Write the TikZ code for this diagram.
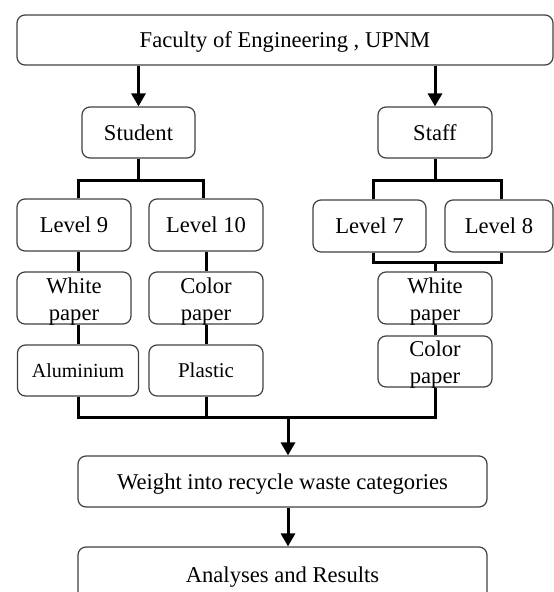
\documentclass[tikz,border=0pt]{standalone}
\usepackage{fontspec}
\setmainfont{Liberation Serif}
\usetikzlibrary{arrows.meta,calc}
\begin{document}
\begin{tikzpicture}[x=1pt,y=-1pt,
  box/.style={draw=black!75, line width=1.2pt, rounded corners=8pt, inner sep=0pt,
    font=\fontsize{22.6}{27}\selectfont, text height=15.4pt, text depth=0pt},
  twol/.style={align=center, inner sep=0pt, font=\fontsize{22.6}{27}\selectfont},
  conn/.style={line width=3pt},
  arr/.style={line width=3pt, -{Triangle[length=13pt,width=14pt]}}]
\useasboundingbox (0,0) rectangle (554,592);
\node[box, minimum width=536pt, minimum height=50pt] (top) at (285,40) {Faculty of Engineering , UPNM};
\node[box, minimum width=113pt, minimum height=51pt] (student) at (138.5,132.5) {Student};
\node[box, minimum width=114pt, minimum height=51pt] (staff) at (435,132.5) {Staff};
\node[box, minimum width=114pt, minimum height=52pt] (lv9) at (74,225) {Level 9};
\node[box, minimum width=114pt, minimum height=52pt] (lv10) at (206,225) {Level 10};
\node[box, minimum width=113pt, minimum height=52pt] (lv7) at (369.5,226) {Level 7};
\node[box, minimum width=108pt, minimum height=52pt] (lv8) at (499,226) {Level 8};
\node[box, minimum width=114pt, minimum height=52pt] (wp1) at (74,298) {};
\node[twol] (wp1t) at ($(wp1.center)+(0,3.5)$) {White\\paper};
\node[box, minimum width=114pt, minimum height=52pt] (cp1) at (206,298) {};
\node[twol] (cp1t) at ($(cp1.center)+(0,3.5)$) {Color\\paper};
\node[box, minimum width=121pt, minimum height=51pt, font=\fontsize{20}{24}\selectfont, text height=13.6pt] (al) at (78,370.5) {Aluminium};
\node[box, minimum width=114pt, minimum height=51pt, font=\fontsize{21}{25}\selectfont, text height=14.3pt] (pl) at (206,370.5) {Plastic};
\node[box, minimum width=114pt, minimum height=52pt] (wp3) at (435,298) {};
\node[twol] (wp3t) at ($(wp3.center)+(0,3.5)$) {White\\paper};
\node[box, minimum width=114pt, minimum height=51pt] (cp3) at (435,361.5) {};
\node[twol] (cp3t) at ($(cp3.center)+(0,3)$) {Color\\paper};
\node[box, minimum width=409pt, minimum height=51pt] (wt) at (282.5,481.5) {Weight into recycle waste categories};
\node[box, minimum width=409pt, minimum height=56pt] (an) at (282.5,575) {Analyses and Results};
% top arrows
\draw[arr] (top.south -| student.north) -- (student.north);
\draw[arr] (top.south -| staff.north) -- (staff.north);
% student branch
\draw[conn] (student.south) -- ++(0,22) coordinate (sb);
\draw[conn] ([xshift=4pt]lv9.north) |- (sb) -| ([xshift=-3pt]lv10.north);
\draw[conn] ([xshift=4pt]lv9.south) -- ([xshift=4pt]wp1.north);
\draw[conn] (lv10.south) -- (cp1.north);
\draw[conn] ([xshift=4pt]wp1.south) -- (al.north);
\draw[conn] (cp1.south) -- (pl.north);
% staff branch
\draw[conn] (staff.south) -- ++(0,22) coordinate (stb);
\draw[conn] ([xshift=3.5pt]lv7.north) |- (stb) -| ([xshift=2pt]lv8.north);
\draw[conn] ([xshift=3.5pt]lv7.south) -- ++(0,10) -| ([xshift=2pt]lv8.south);
\draw[conn] (wp3.north) -- ++(0,-10);
\draw[conn] (wp3.south) -- (cp3.north);
% bottom bus
\draw[conn] (al.south) -- ++(0,21) coordinate (bb) -| (cp3.south);
\draw[conn] (pl.south) -- (pl.south |- bb);
\coordinate (wtin) at ($(wt.north)+(5.5,0)$);
\coordinate (anin) at ($(an.north)+(5.5,0)$);
\draw[arr] (wtin |- bb) -- (wtin);
\draw[arr] (wt.south -| anin) -- (anin);
\end{tikzpicture}
\end{document}
